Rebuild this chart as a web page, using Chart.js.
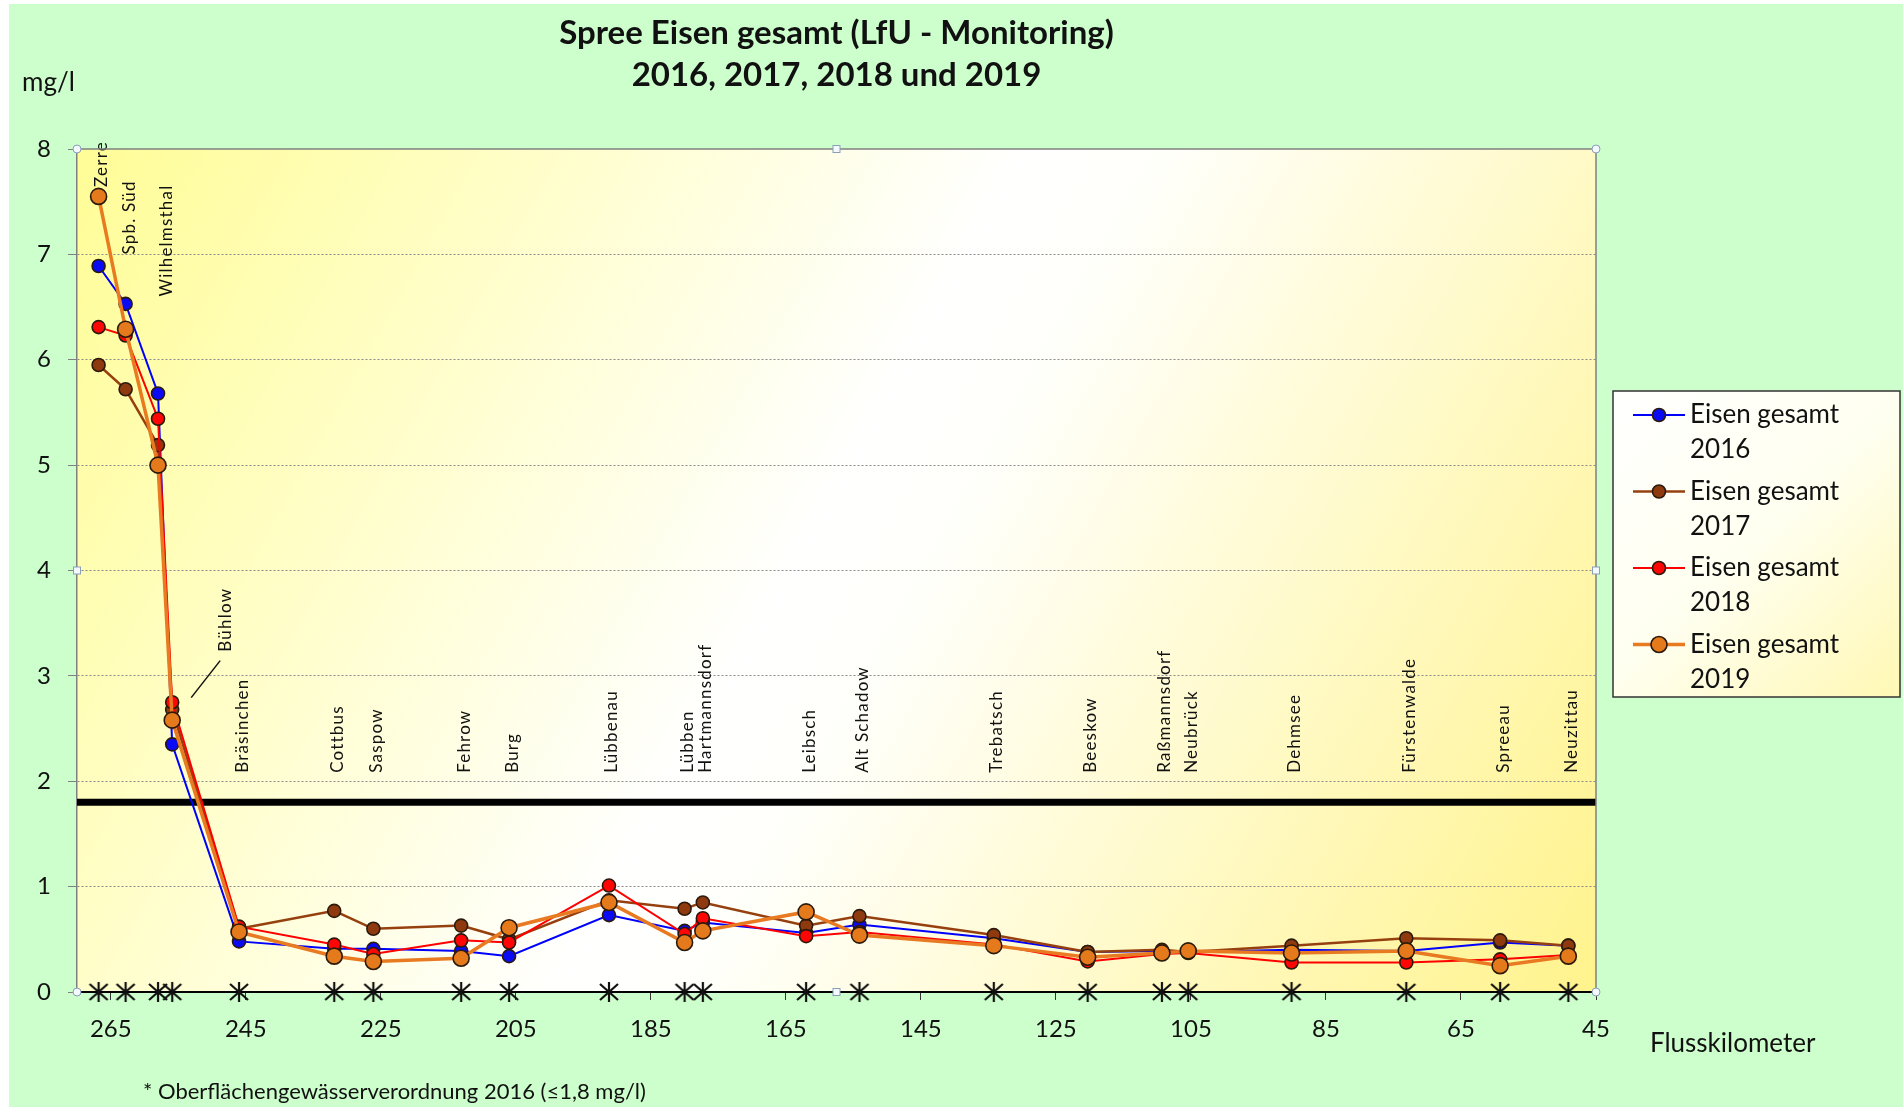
<!DOCTYPE html>
<html>
<head>
<meta charset="utf-8">
<script src="https://cdn.jsdelivr.net/npm/chart.js@4.4.1/dist/chart.umd.min.js"></script>
<style>
html,body{margin:0;padding:0;background:#fff;overflow:hidden}
#c{display:block}
</style>
</head>
<body>
<canvas id="c" width="1903" height="1107"></canvas>
<script>
// ---------------- data ----------------
const stations = ['Zerre','Spb. Süd','Wilhelmsthal','Bühlow','Bräsinchen','Cottbus','Saspow','Fehrow','Burg','Lübbenau','Lübben','Hartmannsdorf','Leibsch','Alt Schadow','Trebatsch','Beeskow','Raßmannsdorf','Neubrück','Dehmsee','Fürstenwalde','Spreeau','Neuzittau'];
const km = [266.8, 262.8, 258.0, 255.9, 246.0, 231.9, 226.1, 213.1, 206.0, 191.2, 180.0, 177.3, 162.0, 154.1, 134.2, 120.3, 109.3, 105.4, 90.1, 73.1, 59.2, 49.1];
const fe2016 = [6.89, 6.53, 5.68, 2.35, 0.48, 0.41, 0.41, 0.39, 0.34, 0.73, 0.58, 0.66, 0.56, 0.64, 0.51, 0.38, 0.39, 0.38, 0.40, 0.39, 0.47, 0.44];
const fe2017 = [5.95, 5.72, 5.19, 2.68, 0.60, 0.77, 0.60, 0.63, 0.50, 0.87, 0.79, 0.85, 0.63, 0.72, 0.54, 0.38, 0.40, 0.38, 0.44, 0.51, 0.49, 0.44];
const fe2018 = [6.31, 6.23, 5.44, 2.75, 0.62, 0.45, 0.36, 0.49, 0.47, 1.01, 0.55, 0.70, 0.53, 0.57, 0.45, 0.29, 0.36, 0.37, 0.28, 0.28, 0.31, 0.35];
const fe2019 = [7.55, 6.29, 5.00, 2.58, 0.57, 0.34, 0.29, 0.32, 0.61, 0.85, 0.47, 0.58, 0.76, 0.54, 0.44, 0.33, 0.37, 0.39, 0.37, 0.39, 0.25, 0.34];
const seriesNames = ['Eisen gesamt 2016','Eisen gesamt 2017','Eisen gesamt 2018','Eisen gesamt 2019'];
const limitValue = 1.8;
const xMin = 45, xMax = 270;
const xTicks = [265, 245, 225, 205, 185, 165, 145, 125, 105, 85, 65, 45];
const yTicks = [0, 1, 2, 3, 4, 5, 6, 7, 8];
const titleLines = ['Spree Eisen gesamt (LfU - Monitoring)', '2016, 2017, 2018 und 2019'];
const yUnit = 'mg/l';
const xTitle = 'Flusskilometer';
const footnote = '* Oberflächengewässerverordnung 2016 (≤1,8 mg/l)';

// ---------------- styles ----------------
const FONT = 'Lato, "Open Sans", sans-serif';
const series = [
  {vals: fe2016, line: '#0000ff', fill: '#0a0af5', width: 2,   radius: 6.5, order: 4},
  {vals: fe2017, line: '#96400f', fill: '#8e3a0e', width: 2.5, radius: 6.5, order: 3},
  {vals: fe2018, line: '#ff0000', fill: '#ff0505', width: 2,   radius: 6.5, order: 2},
  {vals: fe2019, line: '#e87a22', fill: '#e57a1c', width: 3.5, radius: 8,   order: 1}
];

// asterisk marker
const star = document.createElement('canvas');
star.width = 22; star.height = 22;
(function(){
  const g = star.getContext('2d');
  g.strokeStyle = '#111'; g.lineWidth = 2.2; g.lineCap = 'butt';
  g.beginPath();
  g.moveTo(11, 1); g.lineTo(11, 21);
  g.moveTo(2, 3); g.lineTo(20, 19);
  g.moveTo(2, 19); g.lineTo(20, 3);
  g.stroke();
})();

// station label placement (level in data units, dx in px)
const labelPlacement = {
  'Zerre':        {level: 7.64, dx: 3},
  'Spb. Süd':     {level: 7.00, dx: 4},
  'Wilhelmsthal': {level: 6.60, dx: 9},
  'Bühlow':       {level: 3.23, dx: 53, leader: true}
};
const defaultPlacement = {level: 2.08, dx: 3};

const datasets = series.map((s, i) => ({
  label: seriesNames[i],
  data: km.map((k, j) => ({x: k, y: s.vals[j]})),
  borderColor: s.line,
  backgroundColor: s.fill,
  borderWidth: s.width,
  pointBackgroundColor: s.fill,
  pointBorderColor: '#2b1a0c',
  pointBorderWidth: 1.6,
  pointRadius: s.radius,
  pointHoverRadius: s.radius,
  tension: 0,
  order: s.order,
  clip: false
}));
datasets.push({
  label: 'Grenzwert',
  data: [{x: xMin, y: limitValue}, {x: xMax, y: limitValue}],
  borderColor: '#000',
  borderWidth: 7,
  pointRadius: 0,
  order: 5
});
datasets.push({
  label: 'Messstellen',
  data: km.map(k => ({x: k, y: 0})),
  showLine: false,
  pointStyle: star,
  pointRadius: 11,
  order: 0,
  clip: false
});

const decor = {
  id: 'decor',
  beforeDraw(chart) {
    const {ctx, chartArea: a} = chart;
    ctx.save();
    ctx.fillStyle = '#ffffff';
    ctx.fillRect(0, 0, chart.width, chart.height);
    ctx.fillStyle = '#ccffcc';
    ctx.fillRect(9, 4, chart.width - 9, chart.height - 4);
    const g = ctx.createLinearGradient(a.left, a.top, a.right, a.bottom);
    g.addColorStop(0, 'rgb(255,253,150)');
    g.addColorStop(0.48, '#ffffff');
    g.addColorStop(0.55, '#fffffa');
    g.addColorStop(1, 'rgb(255,243,140)');
    ctx.fillStyle = g;
    ctx.fillRect(a.left, a.top, a.right - a.left, a.bottom - a.top);
    ctx.restore();
  },
  beforeDatasetsDraw(chart) {
    const {ctx, scales: {x, y}} = chart;
    ctx.save();
    ctx.fillStyle = '#111';
    ctx.font = '17px ' + FONT;
    try { ctx.letterSpacing = '1.2px'; } catch (e) {}
    stations.forEach((name, i) => {
      const p = labelPlacement[name] || defaultPlacement;
      const px = x.getPixelForValue(km[i]) + p.dx;
      const py = y.getPixelForValue(p.level);
      ctx.save();
      ctx.translate(px, py);
      ctx.rotate(-Math.PI / 2);
      ctx.textAlign = 'left';
      ctx.textBaseline = 'middle';
      ctx.fillText(name, 0, 0);
      ctx.restore();
      if (p.leader) {
        ctx.save();
        ctx.strokeStyle = '#111';
        ctx.lineWidth = 1.5;
        ctx.beginPath();
        ctx.moveTo(px - 34, py + 46);
        ctx.lineTo(px - 5, py + 9);
        ctx.stroke();
        ctx.restore();
      }
    });
    ctx.restore();
  },
  afterDraw(chart) {
    const {ctx, chartArea: a} = chart;
    ctx.save();
    // plot border top/right
    ctx.strokeStyle = '#808080';
    ctx.lineWidth = 1.5;
    ctx.beginPath();
    ctx.moveTo(a.left, a.top); ctx.lineTo(a.right, a.top); ctx.lineTo(a.right, a.bottom);
    ctx.stroke();

    // title
    ctx.fillStyle = '#111';
    ctx.textAlign = 'center';
    ctx.textBaseline = 'middle';
    ctx.font = 'bold 33px ' + FONT;
    const cx = (a.left + a.right) / 2;
    ctx.fillText(titleLines[0], cx, 33);
    ctx.fillText(titleLines[1], cx, 75);

    // axis titles
    ctx.font = '26px ' + FONT;
    ctx.textAlign = 'left';
    ctx.fillText(yUnit, 22, 83);
    ctx.fillText(xTitle, 1650, 1044);
    ctx.font = '22px ' + FONT;
    ctx.fillText(footnote, 143, 1092);

    // legend
    const lx = 1613, ly = 391, lw = 287, lh = 306;
    const lg = ctx.createLinearGradient(lx, ly, lx + lw, ly + lh);
    lg.addColorStop(0, '#ffffff');
    lg.addColorStop(0.5, '#fffff0');
    lg.addColorStop(1, 'rgb(255,248,180)');
    ctx.fillStyle = lg;
    ctx.fillRect(lx, ly, lw, lh);
    ctx.strokeStyle = '#333';
    ctx.lineWidth = 1.5;
    ctx.strokeRect(lx, ly, lw, lh);
    series.forEach((s, i) => {
      const yy = 415 + i * 76.5;
      ctx.strokeStyle = s.line;
      ctx.lineWidth = s.width;
      ctx.beginPath();
      ctx.moveTo(1633, yy); ctx.lineTo(1685, yy);
      ctx.stroke();
      ctx.beginPath();
      ctx.arc(1659, yy, s.radius, 0, Math.PI * 2);
      ctx.fillStyle = s.fill;
      ctx.fill();
      ctx.strokeStyle = '#2b1a0c';
      ctx.lineWidth = 1.6;
      ctx.stroke();
      const name = seriesNames[i];
      const cut = name.lastIndexOf(' ');
      ctx.fillStyle = '#111';
      ctx.font = '26px ' + FONT;
      ctx.textAlign = 'left';
      ctx.textBaseline = 'middle';
      ctx.fillText(name.slice(0, cut), 1690, yy);
      ctx.fillText(name.slice(cut + 1), 1690, yy + 35);
    });

    // selection handles
    const mx = (a.left + a.right) / 2, my = (a.top + a.bottom) / 2;
    ctx.lineWidth = 1;
    ctx.strokeStyle = '#8aa0b8';
    ctx.fillStyle = '#f4f8ff';
    [[a.left, a.top], [a.right, a.top], [a.left, a.bottom], [a.right, a.bottom]].forEach(([hx, hy]) => {
      ctx.beginPath(); ctx.arc(hx, hy, 4, 0, Math.PI * 2); ctx.fill(); ctx.stroke();
    });
    [[mx, a.top], [a.left, my], [mx, a.bottom], [a.right, my]].forEach(([hx, hy]) => {
      ctx.fillRect(hx - 3.5, hy - 3.5, 7, 7); ctx.strokeRect(hx - 3.5, hy - 3.5, 7, 7);
    });
    ctx.restore();
  }
};

new Chart(document.getElementById('c'), {
  type: 'line',
  data: {datasets},
  options: {
    responsive: false,
    animation: false,
    devicePixelRatio: 1,
    layout: {padding: {left: 0, top: 149, right: 307, bottom: 55}},
    plugins: {legend: {display: false}, tooltip: {enabled: false}, title: {display: false}},
    scales: {
      x: {
        type: 'linear',
        reverse: true,
        min: xMin,
        max: xMax,
        afterFit(s) { s.height = 60; },
        afterBuildTicks(s) { s.ticks = xTicks.map(v => ({value: v})); },
        grid: {drawOnChartArea: false, drawTicks: true, tickLength: 8, color: '#333', tickColor: '#333'},
        border: {display: true, color: '#000', width: 2},
        ticks: {font: {family: FONT, size: 24}, color: '#111', padding: 15, maxRotation: 0, autoSkip: false}
      },
      y: {
        type: 'linear',
        min: 0,
        max: 8,
        afterFit(s) { s.width = 77; },
        afterBuildTicks(s) { s.ticks = yTicks.map(v => ({value: v})); },
        grid: {
          color: c => (c.tick && (c.tick.value === 0 || c.tick.value === 8)) ? 'rgba(0,0,0,0)' : '#8a8a8a',
          lineWidth: 1,
          drawTicks: true,
          tickLength: 9,
          tickColor: '#808080'
        },
        border: {display: true, color: '#808080', width: 1.5, dash: [2, 2]},
        ticks: {font: {family: FONT, size: 24}, color: '#111', padding: 17}
      }
    }
  },
  plugins: [decor]
});
</script>
</body>
</html>
